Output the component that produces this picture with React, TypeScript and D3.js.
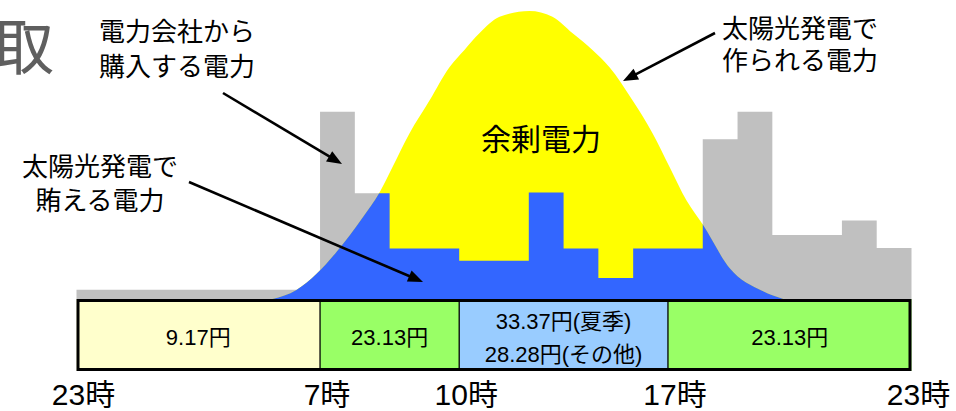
import React from 'react';
import * as d3 from 'd3';

const W = 956;
const H = 411;

// Hourly household demand (kW); index 0 = the hour starting at 23時
const demandKW = [
  0.13, 0.13, 0.13, 0.13, 0.13, 0.13, 0.13, 2.6, 1.47, 0.7, 0.7, 0.53,
  0.53, 1.48, 0.7, 0.29, 0.7, 0.7, 2.22, 2.6, 0.89, 0.89, 1.09, 0.71,
];

// Solar generation curve (hour offset, kW)
const solarHours = [
  5.63, 6.32, 6.9, 7.5, 8.22, 8.71, 9.08, 9.57, 10.15, 10.72, 11.15, 11.58, 12.16,
  13.02, 13.68, 14.26, 14.83, 15.32, 15.98, 16.56, 17.05, 17.53, 18.02, 18.77, 19.72, 20.32,
];
const solarKW = [
  0, 0.125, 0.35, 0.67, 1.13, 1.48, 1.83, 2.3, 2.76, 3.22, 3.46, 3.69, 3.92,
  4.0, 3.92, 3.69, 3.46, 3.22, 2.76, 2.3, 1.83, 1.37, 1.02, 0.43, 0.11, 0,
];

// Tariff bands
const bandEdges = [0, 7, 11, 17, 24];
const bandLabels = ['23時', '7時', '10時', '17時', '23時'];
const bandPrices = [['9.17円'], ['23.13円'], ['33.37円(夏季)', '28.28円(その他)'], ['23.13円']];
const bandColors = ['#ffffcc', '#99ff66', '#99ccff', '#99ff66'];

const FONT = '"Liberation Sans", Arial, "Noto Sans CJK JP", sans-serif';

export default function App() {
  const x = d3.scaleLinear().domain([0, 24]).range([76.5, 911.5]);
  const y = d3.scaleLinear().domain([0, 4]).range([299, 11]);

  const demandPts: [number, number][] = demandKW.map((v, i) => [i, v] as [number, number]);
  demandPts.push([24, demandKW[demandKW.length - 1]]);

  const demandArea = d3
    .area<[number, number]>()
    .x((d) => x(d[0]))
    .y0(y(0))
    .y1((d) => y(d[1]))
    .curve(d3.curveStepAfter);

  const solarPts: [number, number][] = solarHours.map((h, i) => [h, solarKW[i]] as [number, number]);
  const solarArea = d3
    .area<[number, number]>()
    .x((d) => x(d[0]))
    .y0(y(0))
    .y1((d) => y(d[1]))
    .curve(d3.curveMonotoneX);

  const dPath = demandArea(demandPts) || '';
  const sPath = solarArea(solarPts) || '';

  const boxTop = 299;
  const boxBottom = 371;
  const boxMid = (boxTop + boxBottom) / 2;

  const arrows = [
    { x1: 223, y1: 93, x2: 342, y2: 164 },
    { x1: 189, y1: 182, x2: 423, y2: 282 },
    { x1: 715, y1: 33, x2: 623, y2: 81 },
  ];

  const arrowHead = (a: { x1: number; y1: number; x2: number; y2: number }) => {
    const ang = Math.atan2(a.y2 - a.y1, a.x2 - a.x1);
    const L = 15;
    const Wd = 6;
    const bx = a.x2 - L * Math.cos(ang);
    const by = a.y2 - L * Math.sin(ang);
    const px = -Math.sin(ang) * Wd;
    const py = Math.cos(ang) * Wd;
    return `M${a.x2},${a.y2}L${bx + px},${by + py}L${bx - px},${by - py}Z`;
  };
  const lineEnd = (a: { x1: number; y1: number; x2: number; y2: number }) => {
    const ang = Math.atan2(a.y2 - a.y1, a.x2 - a.x1);
    return { x: a.x2 - 10 * Math.cos(ang), y: a.y2 - 10 * Math.sin(ang) };
  };

  return (
    <svg
      width={W}
      height={H}
      viewBox={`0 0 ${W} ${H}`}
      style={{ position: 'absolute', left: 0, top: 0, background: '#fff' }}
      fontFamily={FONT}
    >
      <defs>
        <clipPath id="coveredClip">
          <path d={dPath} />
          <rect x={x(0)} y={0} width={x(7) - x(0)} height={H} />
        </clipPath>
      </defs>

      {/* demand (purchased) */}
      <path d={dPath} fill="#c0c0c0" />
      {/* solar generation */}
      <path d={sPath} fill="#ffff00" />
      {/* solar covered consumption */}
      <path d={sPath} fill="#3366ff" clipPath="url(#coveredClip)" />

      {/* tariff table */}
      {bandColors.map((c, i) => (
        <rect
          key={'b' + i}
          x={x(bandEdges[i])}
          y={boxTop}
          width={x(bandEdges[i + 1]) - x(bandEdges[i])}
          height={boxBottom - boxTop}
          fill={c}
        />
      ))}
      {bandEdges.slice(1, -1).map((e, i) => (
        <line key={'d' + i} x1={x(e)} x2={x(e)} y1={boxTop} y2={boxBottom} stroke="#000" strokeWidth={1.3} />
      ))}
      <rect
        x={x(0) + 1.5}
        y={boxTop + 1.5}
        width={x(24) - x(0) - 3}
        height={boxBottom - boxTop - 3}
        fill="none"
        stroke="#000"
        strokeWidth={3}
      />
      {bandPrices.map((lines, i) => {
        const cx = (x(bandEdges[i]) + x(bandEdges[i + 1])) / 2;
        return lines.map((t, j) => (
          <text
            key={'p' + i + '-' + j}
            x={cx}
            y={boxMid + 10 + (j - (lines.length - 1) / 2) * 33}
            textAnchor="middle"
            fontSize={22}
            fill="#000"
          >
            {t}
          </text>
        ));
      })}
      {bandLabels.map((t, i) => (
        <text key={'l' + i} x={x(bandEdges[i]) + 7} y={405} textAnchor="middle" fontSize={30} fill="#000">
          {t}
        </text>
      ))}

      {/* annotations */}
      <text x={-8} y={70} fontSize={62} fill="#5f5f5f">取</text>
      <text x={177} y={41} textAnchor="middle" fontSize={26} fill="#000">電力会社から</text>
      <text x={177} y={76} textAnchor="middle" fontSize={26} fill="#000">購入する電力</text>
      <text x={100} y={176} textAnchor="middle" fontSize={26} fill="#000">太陽光発電で</text>
      <text x={100} y={210} textAnchor="middle" fontSize={26} fill="#000">賄える電力</text>
      <text x={800} y={38} textAnchor="middle" fontSize={26} fill="#000">太陽光発電で</text>
      <text x={800} y={70} textAnchor="middle" fontSize={26} fill="#000">作られる電力</text>
      <text x={541} y={150} textAnchor="middle" fontSize={30} fill="#000">余剰電力</text>

      {arrows.map((a, i) => {
        const e = lineEnd(a);
        return (
          <g key={'a' + i}>
            <line x1={a.x1} y1={a.y1} x2={e.x} y2={e.y} stroke="#000" strokeWidth={2.6} />
            <path d={arrowHead(a)} fill="#000" />
          </g>
        );
      })}
    </svg>
  );
}
